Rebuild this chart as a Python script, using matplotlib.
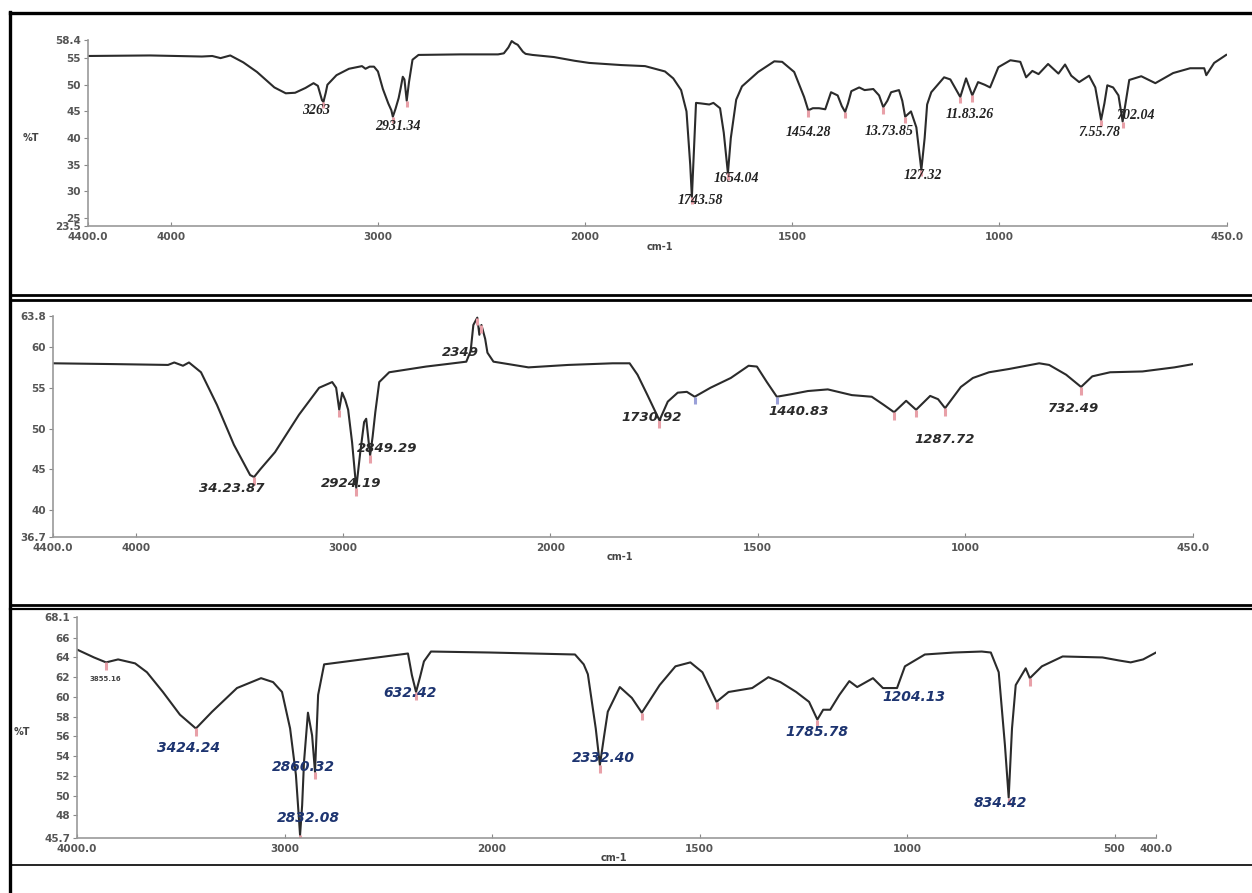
import numpy as np
import matplotlib
matplotlib.use("Agg")
import matplotlib.pyplot as plt
from matplotlib.lines import Line2D

W, H = 1252, 893

# ---- spectrum 1 (wavenumber cm-1, %T) ----
wn1 = [4400, 4100, 3850, 3800, 3760, 3713, 3650, 3584, 3500, 3445, 3400, 3350, 3311, 3290,
       3270, 3263, 3252, 3244, 3200, 3140, 3077, 3060, 3040, 3019, 3000, 2976, 2950, 2935,
       2928, 2915, 2900, 2890, 2880, 2872, 2861, 2850, 2833, 2804, 2600, 2420, 2392, 2370,
       2354, 2340, 2325, 2300, 2287, 2254, 2150, 2050, 1990, 1913, 1855, 1807, 1787, 1768,
       1755, 1746, 1742, 1738, 1732, 1720, 1700, 1690, 1674, 1665, 1655, 1648, 1635, 1621,
       1582, 1543, 1524, 1495, 1471, 1461, 1450, 1435, 1420, 1406, 1390, 1380, 1372, 1365,
       1357, 1338, 1325, 1304, 1290, 1280, 1270, 1261, 1242, 1234, 1227, 1213, 1200, 1188,
       1180, 1174, 1164, 1133, 1118, 1094, 1080, 1065, 1051, 1035, 1022, 1002, 973, 949,
       935, 920, 905, 882, 857, 841, 826, 807, 783, 768, 760, 754, 746, 739, 725, 712, 702,
       694, 686, 657, 623, 580, 539, 505, 500, 481, 452]
t1 = [55.4, 55.5, 55.3, 55.4, 55.0, 55.5, 54.2, 52.4, 49.5, 48.4, 48.5, 49.4, 50.3, 49.8,
      47.1, 46.8, 48.5, 50.0, 51.8, 53.0, 53.5, 53.0, 53.4, 53.4, 52.5, 49.2, 46.5, 45.2,
      44.0, 45.5, 47.5, 49.4, 51.5, 51.0, 47.0, 50.5, 54.7, 55.6, 55.7, 55.7, 55.9, 57.0,
      58.2, 57.8, 57.5, 56.2, 55.8, 55.6, 55.2, 54.5, 54.1, 53.7, 53.5, 52.5, 51.2, 49.0,
      45.0, 35.0, 28.9, 36.0, 46.6, 46.5, 46.3, 46.6, 45.6, 41.0, 33.4, 40.0, 47.2, 49.7,
      52.4, 54.4, 54.3, 52.4, 47.7, 45.2, 45.6, 45.6, 45.4, 48.6, 48.0, 46.0, 44.9, 46.5,
      48.8, 49.5, 49.0, 49.2, 48.0, 45.8, 47.0, 48.6, 49.0, 47.0, 44.0, 45.0, 42.0, 34.0,
      40.0, 46.3, 48.6, 51.4, 51.0, 47.7, 51.2, 48.0, 50.5, 50.0, 49.5, 53.3, 54.6, 54.3,
      51.4, 52.6, 52.0, 53.9, 52.1, 53.8, 51.7, 50.5, 51.7, 49.5, 46.0, 43.4, 46.5, 49.9,
      49.5, 48.0, 43.1, 47.0, 50.9, 51.6, 50.3, 52.2, 53.1, 53.1, 51.8, 54.1, 55.6]
marks1 = [3263, 2928, 2861, 1742, 1655, 1461, 1372, 1280, 1227, 1188, 1094, 1065, 754, 702]
labels1 = ["3263", "2931.34", "1743.58", "1654.04", "1454.28", "13.73.85", "127.32",
           "11.83.26", "7.55.78", "702.04"]
lab_wn1 = [3297, 2904, 1722, 1635, 1461, 1266, 1184, 1070, 758, 671]
lab_t1 = [45.1, 42.1, 28.2, 32.5, 41.1, 41.3, 33.0, 44.5, 41.1, 44.3]

# ---- spectrum 2 ----
wn2 = [4400, 4100, 3845, 3815, 3773, 3744, 3686, 3609, 3527, 3449, 3430, 3400, 3329, 3213,
       3116, 3053, 3034, 3019, 3005, 2990, 2976, 2957, 2937, 2918, 2899, 2889, 2870, 2858,
       2845, 2826, 2778, 2600, 2502, 2406, 2385, 2372, 2353, 2343, 2333, 2315, 2304, 2275,
       2106, 1957, 1850, 1809, 1790, 1766, 1737, 1717, 1693, 1671, 1652, 1614, 1565, 1522,
       1502, 1478, 1454, 1420, 1379, 1331, 1273, 1225, 1196, 1171, 1142, 1118, 1084, 1065,
       1048, 1010, 981, 942, 894, 821, 797, 756, 720, 693, 650, 572, 495, 450]
t2 = [58.0, 57.9, 57.8, 58.1, 57.7, 58.1, 56.9, 52.9, 48.0, 44.3, 44.05, 45.0, 47.1, 51.7,
      55.0, 55.7, 55.0, 52.3, 54.4, 53.5, 52.3, 48.3, 42.7, 47.0, 50.8, 51.2, 46.7, 49.0,
      52.0, 55.7, 56.9, 57.6, 57.9, 58.2, 59.5, 62.7, 63.6, 61.5, 62.7, 61.0, 59.3, 58.2,
      57.5, 57.8, 58.0, 58.0, 56.6, 54.1, 51.0, 53.3, 54.4, 54.5, 53.9, 55.0, 56.2, 57.7,
      57.6, 55.7, 53.9, 54.2, 54.6, 54.8, 54.1, 53.9, 52.9, 52.0, 53.4, 52.3, 54.0, 53.6,
      52.5, 55.1, 56.2, 56.9, 57.3, 58.0, 57.8, 56.6, 55.1, 56.4, 56.9, 57.0, 57.5, 57.9]
marks2 = [3430, 3019, 2937, 2870, 2353, 2333, 1737, 1171, 1118, 1048, 720]
marks2_blue = [1652, 1454]
labels2 = ["2349", "34.23.87", "2849.29", "2924.19", "1730.92", "1440.83", "1287.72", "732.49"]
lab_wn2 = [2435, 3536, 2787, 2961, 1756, 1401, 1048, 739]
lab_t2 = [59.3, 42.7, 47.6, 43.2, 51.4, 52.1, 48.7, 52.4]

# ---- spectrum 3 ----
wn3 = [4000, 3918, 3860, 3802, 3720, 3663, 3586, 3504, 3427, 3349, 3229, 3113, 3055, 3012,
       2973, 2945, 2925, 2915, 2906, 2887, 2867, 2853, 2838, 2809, 2699, 2405, 2386, 2366,
       2347, 2328, 2294, 2010, 1800, 1779, 1769, 1750, 1740, 1730, 1721, 1692, 1663, 1639,
       1596, 1558, 1522, 1493, 1459, 1430, 1373, 1334, 1305, 1267, 1236, 1216, 1202, 1185,
       1163, 1139, 1120, 1082, 1058, 1024, 1005, 957, 887, 820, 798, 779, 764, 755, 747,
       738, 714, 704, 675, 625, 529, 490, 461, 431, 400]
t3 = [64.8, 64.0, 63.5, 63.8, 63.4, 62.5, 60.5, 58.2, 56.8, 58.5, 60.9, 61.9, 61.5, 60.5,
      56.8, 52.1, 46.0, 49.0, 53.4, 58.4, 56.1, 52.4, 60.2, 63.3, 63.6, 64.4, 62.2, 60.5,
      62.0, 63.6, 64.6, 64.5, 64.3, 63.3, 62.3, 56.8, 53.1, 56.0, 58.5, 61.0, 59.9, 58.4,
      61.2, 63.1, 63.5, 62.5, 59.5, 60.5, 60.9, 62.0, 61.5, 60.5, 59.5, 57.7, 58.7, 58.7,
      60.2, 61.6, 61.0, 61.9, 60.9, 60.9, 63.1, 64.3, 64.5, 64.6, 64.5, 62.5, 55.1, 49.8,
      56.8, 61.2, 62.9, 61.9, 63.1, 64.1, 64.0, 63.7, 63.5, 63.8, 64.5]
marks3 = [3860, 3427, 2925, 2853, 2366, 1740, 1639, 1459, 1216, 755, 704]
labels3 = ["3424.24", "2860.32", "2832.08", "632.42", "2332.40", "1785.78", "1204.13", "834.42"]
lab_wn3 = [3465, 2911, 2887, 2395, 1731, 1216, 983, 774]
lab_t3 = [54.8, 52.9, 47.7, 60.4, 53.8, 56.4, 60.0, 49.2]
small_label3 = "3855.16"
small_wn3, small_t3 = 3865, 61.8

xticks1 = [4400, 4000, 3000, 2000, 1500, 1000, 450]
xticklabels1 = ["4400.0", "4000", "3000", "2000", "1500", "1000", "450.0"]
xticks3 = [4000, 3000, 2000, 1500, 1000, 500, 400]
xticklabels3 = ["4000.0", "3000", "2000", "1500", "1000", "500", "400.0"]
yticks1 = [23.5, 25, 30, 35, 40, 45, 50, 55, 58.4]
yticks2 = [36.7, 40, 45, 50, 55, 60, 63.8]
yticks3 = [45.7, 48, 50, 52, 54, 56, 58, 60, 62, 64, 66, 68.1]


def fwd(x):
    x = np.asarray(x, float)
    return np.where(x > 2000, 2000 + (x - 2000) / 2.0, x)


def inv(u):
    u = np.asarray(u, float)
    return np.where(u > 2000, 2000 + (u - 2000) * 2.0, u)


def box(l, r, t, b):
    return [l / W, 1 - b / H, (r - l) / W, (b - t) / H]


fig = plt.figure(figsize=(W / 100, H / 100), dpi=100)
fig.patch.set_facecolor("white")


def spectrum(rect, wn, t, xlim, ylim, xt, xtl, yt, marks, labs, lab_wn, lab_t,
             lab_font, lab_color, lab_size, blue=None):
    ax = fig.add_axes(box(*rect))
    ax.set_xscale("function", functions=(fwd, inv))
    ax.plot(wn, t, color="#2b2b2b", lw=1.5, solid_joinstyle="round")
    wn_r, t_r = np.array(wn)[::-1], np.array(t)[::-1]
    ym = np.interp(marks, wn_r, t_r)
    ax.vlines(marks, ym - 1.2 * (ylim[1] - ylim[0]) / 35, ym, color="#e8a0a8", lw=2.2)
    if blue is not None:
        yb = np.interp(blue, wn_r, t_r)
        ax.vlines(blue, yb - 1.2 * (ylim[1] - ylim[0]) / 35, yb, color="#9aa0d8", lw=2.2)
    for s, x, y in zip(labs, lab_wn, lab_t):
        ax.text(x, y, s, ha="center", va="center", fontsize=lab_size, family=lab_font,
                style="italic", weight="bold", color=lab_color, clip_on=False)
    ax.set_xlim(*xlim)
    ax.set_ylim(*ylim)
    ax.set_xticks(xt)
    ax.set_xticklabels(xtl)
    ax.set_yticks(yt)
    ax.set_yticklabels([f"{v:g}" if v != int(v) else f"{int(v)}" for v in yt])
    ax.tick_params(axis="x", direction="in", length=3, width=0.8, color="#888",
                   labelsize=7.5, labelcolor="#555", pad=4)
    ax.tick_params(axis="y", direction="out", length=3, width=0.8, color="#888",
                   labelsize=7.5, labelcolor="#555", pad=2)
    for lbl in ax.get_xticklabels() + ax.get_yticklabels():
        lbl.set_fontweight("bold")
    for sp in ["top", "right"]:
        ax.spines[sp].set_visible(False)
    for sp in ["left", "bottom"]:
        ax.spines[sp].set_color("#999")
        ax.spines[sp].set_linewidth(1.2)
    ax.patch.set_alpha(0)
    return ax


spectrum((88, 1227, 40, 226), wn1, t1, (4400, 450), (23.5, 58.4), xticks1, xticklabels1,
         yticks1, marks1, labels1, lab_wn1, lab_t1, "Liberation Serif", "#222", 10)
spectrum((53, 1193, 316, 537), wn2, t2, (4400, 450), (36.7, 63.8), xticks1, xticklabels1,
         yticks2, marks2, labels2, lab_wn2, lab_t2, "DejaVu Sans", "#2a2a2a", 9.5,
         blue=marks2_blue)
ax3 = spectrum((77, 1156, 617, 838), wn3, t3, (4000, 400), (45.7, 68.1), xticks3,
               xticklabels3, yticks3, marks3, labels3, lab_wn3, lab_t3, "DejaVu Sans",
               "#1d3470", 10)
ax3.text(small_wn3, small_t3, small_label3, ha="center", va="center", fontsize=5,
         color="#444", weight="bold")

# axis captions
for px, py, s in [(31, 138, "%T"), (22, 732, "%T"), (660, 247, "cm-1"),
                  (620, 557, "cm-1"), (614, 858, "cm-1")]:
    fig.text(px / W, 1 - py / H, s, ha="center", va="center", fontsize=7,
             color="#444", weight="bold")

# outer frame lines
def hline(py, lw, x0=10):
    fig.add_artist(Line2D([x0 / W, 1], [1 - py / H, 1 - py / H], color="black",
                          lw=lw, transform=fig.transFigure))

hline(13, 2.4)
hline(294.5, 2.0)
hline(300, 2.0)
hline(604.5, 2.0)
hline(608.5, 1.6)
hline(865, 1.2)
fig.add_artist(Line2D([10 / W, 10 / W], [1 - 12 / H, 0], color="black", lw=2.4,
                      transform=fig.transFigure))

fig.savefig("out.png", dpi=100)
